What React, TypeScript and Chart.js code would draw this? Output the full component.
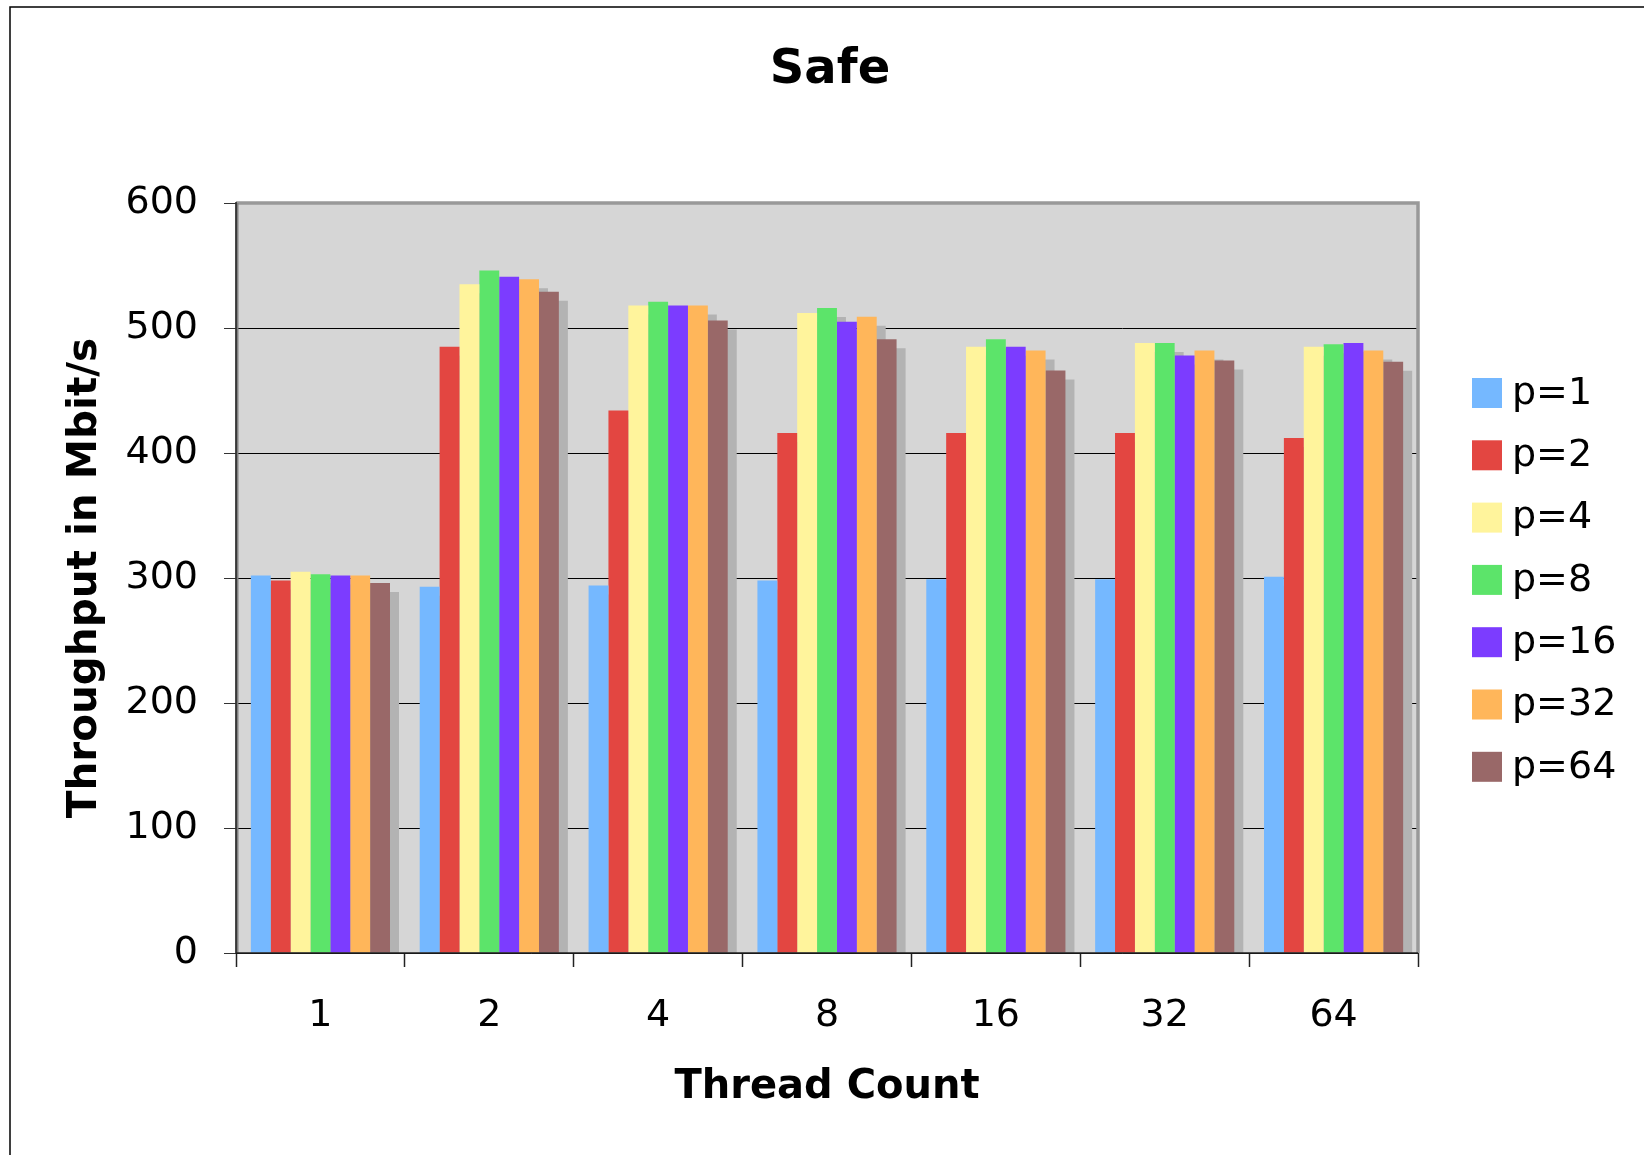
import React, { useEffect, useRef } from "react";
import { Chart, registerables } from "chart.js";

Chart.register(...registerables);

const categories = ["1", "2", "4", "8", "16", "32", "64"];
const seriesLabels = ["p=1", "p=2", "p=4", "p=8", "p=16", "p=32", "p=64"];
const p1 = [302, 293, 294, 298, 299, 299, 301];
const p2 = [298, 485, 434, 416, 416, 416, 412];
const p4 = [305, 535, 518, 512, 485, 488, 485];
const p8 = [303, 546, 521, 516, 491, 488, 487];
const p16 = [302, 541, 518, 505, 485, 478, 488];
const p32 = [302, 539, 518, 509, 482, 482, 482];
const p64 = [296, 529, 506, 491, 466, 474, 473];
const seriesValues = [p1, p2, p4, p8, p16, p32, p64];
const seriesColors = ["#75b8ff", "#e34641", "#fff49c", "#5ce46a", "#7c3cff", "#ffb65a", "#996868"];
const yTicks = [0, 100, 200, 300, 400, 500, 600];

const FONT = "'DejaVu Sans', Verdana, sans-serif";

export default function App() {
  const ref = useRef<HTMLCanvasElement | null>(null);

  useEffect(() => {
    const canvas = ref.current;
    if (!canvas) return;

    const decor = {
      id: "decor",
      beforeDraw(chart: any) {
        const { ctx, chartArea: a } = chart;
        ctx.save();
        ctx.fillStyle = "#ffffff";
        ctx.fillRect(0, 0, chart.width, chart.height);
        ctx.fillStyle = "#d6d6d6";
        ctx.fillRect(a.left, a.top, a.right - a.left, a.bottom - a.top);
        ctx.strokeStyle = "#000";
        ctx.lineWidth = 1.5;
        ctx.strokeRect(10, 7, 2000, 2000);
        ctx.restore();
      },
      beforeDatasetsDraw(chart: any) {
        const { ctx, chartArea: a } = chart;
        ctx.save();
        ctx.beginPath();
        ctx.rect(a.left, a.top, a.right - a.left, a.bottom - a.top);
        ctx.clip();
        ctx.fillStyle = "#b3b3b3";
        chart.data.datasets.forEach((_: any, i: number) => {
          const meta = chart.getDatasetMeta(i);
          meta.data.forEach((bar: any) => {
            const p = bar.getProps(["x", "y", "base", "width"], true);
            ctx.fillRect(p.x - p.width / 2 + 9, p.y + 9, p.width, p.base - p.y);
          });
        });
        ctx.restore();
      },
      afterDatasetsDraw(chart: any) {
        const { ctx, chartArea: a } = chart;
        ctx.save();
        ctx.strokeStyle = "#999999";
        ctx.lineWidth = 3.5;
        ctx.beginPath();
        ctx.moveTo(a.left, a.top);
        ctx.lineTo(a.right, a.top);
        ctx.lineTo(a.right, a.bottom);
        ctx.stroke();
        ctx.strokeStyle = "#808080";
        ctx.lineWidth = 3;
        ctx.beginPath();
        ctx.moveTo(a.left + 1, a.top);
        ctx.lineTo(a.left + 1, a.bottom);
        ctx.stroke();
        ctx.strokeStyle = "#222";
        ctx.lineWidth = 1.5;
        ctx.beginPath();
        ctx.moveTo(a.left, a.top - 1);
        ctx.lineTo(a.left, a.bottom);
        ctx.lineTo(a.right, a.bottom);
        ctx.stroke();
        ctx.restore();
      },
      afterDraw(chart: any) {
        const { ctx } = chart;
        ctx.save();
        ctx.fillStyle = "#000";
        ctx.font = `bold 48px ${FONT}`;
        ctx.textAlign = "center";
        ctx.textBaseline = "middle";
        ctx.fillText("Safe", 830, 71);
        ctx.font = `38px ${FONT}`;
        ctx.textAlign = "left";
        chart.data.datasets.forEach((ds: any, i: number) => {
          const cy = 393 + i * 62.3;
          ctx.fillStyle = ds.backgroundColor;
          ctx.fillRect(1472, cy - 15, 30, 30);
          ctx.fillStyle = "#000";
          ctx.fillText(ds.label, 1512, cy + 1);
        });
        ctx.restore();
      },
    };

    const chart = new Chart(canvas, {
      type: "bar",
      data: {
        labels: categories,
        datasets: seriesLabels.map((label, i) => ({
          label,
          data: seriesValues[i],
          backgroundColor: seriesColors[i],
          borderWidth: 0,
          categoryPercentage: 0.824,
          barPercentage: 1,
        })),
      },
      options: {
        responsive: false,
        animation: false,
        devicePixelRatio: 1,
        layout: { padding: { left: 10, right: 226, top: 203, bottom: 0 } },
        plugins: {
          legend: { display: false },
          title: { display: false },
          tooltip: { enabled: false },
        },
        scales: {
          x: {
            grid: {
              offset: true,
              drawOnChartArea: false,
              drawTicks: true,
              tickLength: 14,
              tickColor: "#222",
              tickWidth: 1.5,
            },
            border: { display: false },
            ticks: { color: "#000", font: { family: FONT, size: 38 }, padding: 26 },
            title: {
              display: true,
              text: "Thread Count",
              color: "#000",
              font: { family: FONT, size: 40, weight: "bold" },
              padding: { top: 0, bottom: 43 },
            },
            afterFit(scale: any) {
              scale.height = 202;
            },
          },
          y: {
            min: 0,
            max: 600,
            afterBuildTicks(scale: any) {
              scale.ticks = yTicks.map((v) => ({ value: v }));
            },
            grid: {
              color: "#000",
              lineWidth: 1,
              drawTicks: true,
              tickLength: 12,
              tickColor: "#333",
            },
            border: { display: false },
            ticks: { color: "#000", font: { family: FONT, size: 38 }, padding: 26 },
            title: {
              display: true,
              text: "Throughput in Mbit/s",
              color: "#000",
              font: { family: FONT, size: 40.5, weight: "bold" },
              padding: { top: 51, bottom: 0 },
            },
            afterFit(scale: any) {
              scale.width = 226;
            },
          },
        },
      },
      plugins: [decor],
    });

    return () => chart.destroy();
  }, []);

  return (
    <div style={{ position: "fixed", left: 0, top: 0, width: 1644, height: 1155, background: "#fff" }}>
      <canvas ref={ref} width={1644} height={1155} style={{ display: "block", width: 1644, height: 1155 }} />
    </div>
  );
}
